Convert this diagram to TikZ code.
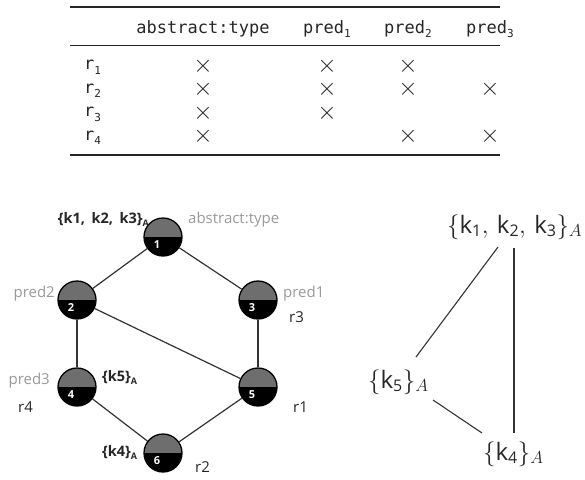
\documentclass[tikz,border=0pt]{standalone}
\usepackage{fontspec}
\setmainfont{Open Sans}
\newfontfamily\monof{DejaVu Sans Mono}
\newfontfamily\osf{Open Sans}
\newcommand\msub[1]{\raisebox{-0.5ex}{\fontsize{11}{11}\selectfont #1}}
\newcommand\gsub[1]{\raisebox{-0.5ex}{\fontsize{9}{9}\selectfont #1}}
\newcommand\kk[1]{\mbox{\osf\fontsize{24}{24}\selectfont k}_{\mbox{\osf\fontsize{16}{16}\selectfont #1}}}
\definecolor{halfgray}{HTML}{6E6E6E}
\definecolor{lblgray}{HTML}{9A9A9A}
\definecolor{edgecol}{HTML}{333333}
\begin{document}
\begin{tikzpicture}[x=1pt,y=-1pt,
  hdr/.style={font=\monof\fontsize{17}{17}\selectfont, inner sep=0pt, anchor=base, text=black!85},
  rlab/.style={font=\monof\fontsize{17}{17}\selectfont, inner sep=0pt, anchor=base west, text=black!85},
  cross/.style={font=\fontsize{23}{23}\selectfont, inner sep=0pt, anchor=center, text=black!85},
  rule/.style={line width=1.6pt, black!85},
  midrule/.style={line width=1pt, black!85},
  circ/.style={circle, draw=black, line width=1.3pt, minimum size=38pt, inner sep=0pt,
    path picture={\fill[halfgray] (path picture bounding box.north west) rectangle (path picture bounding box.east);
                  \fill[black] (path picture bounding box.west) rectangle (path picture bounding box.south east);}},
  num/.style={font=\osf\bfseries\fontsize{11}{11}\selectfont, text=white, inner sep=0pt},
  edge/.style={draw=edgecol, line width=1.2pt},
  glab/.style={font=\osf\fontsize{15}{15}\selectfont, text=lblgray, inner sep=0pt},
  blab/.style={font=\osf\bfseries\fontsize{14.5}{14.5}\selectfont, text=black!85, inner sep=0pt},
  rtag/.style={font=\osf\fontsize{15}{15}\selectfont, text=black!85, inner sep=0pt, anchor=base west},
  mlab/.style={font=\fontsize{23}{27}\selectfont, inner sep=0pt, text=black!85, anchor=base west},
  redge/.style={draw=black!80, line width=1.1pt}
]
\useasboundingbox (0,0) rectangle (585,479);

% ---------- table ----------
\coordinate (tl) at (70,7);  \coordinate (tr) at (500,7);
\coordinate (ml) at (70,45); \coordinate (mr) at (500,45);
\coordinate (bl) at (70,155);\coordinate (br) at (500,155);
\draw[rule] (tl) -- (tr);
\draw[midrule] (ml) -- (mr);
\draw[rule] (bl) -- (br);

\node[hdr] (h0) at (203,33) {abstract:type};
\node[hdr] (h1) at (327,33) {pred\msub{1}};
\node[hdr] (h2) at (408,33) {pred\msub{2}};
\node[hdr] (h3) at (490,33) {pred\msub{3}};

\node[rlab] (r1) at (84,69.5) {r\msub{1}};
\node[rlab] (r2) at (84,93) {r\msub{2}};
\node[rlab] (r3) at (84,116.5) {r\msub{3}};
\node[rlab] (r4) at (84,140) {r\msub{4}};

\node[cross] (x11) at (203,66) {$\times$};
\node[cross] (x12) at (327,66) {$\times$};
\node[cross] (x13) at (408,66) {$\times$};
\node[cross] (x21) at (203,89.5) {$\times$};
\node[cross] (x22) at (327,89.5) {$\times$};
\node[cross] (x23) at (408,89.5) {$\times$};
\node[cross] (x24) at (490,89.5) {$\times$};
\node[cross] (x31) at (203,113) {$\times$};
\node[cross] (x32) at (327,113) {$\times$};
\node[cross] (x41) at (203,136.5) {$\times$};
\node[cross] (x43) at (408,136.5) {$\times$};
\node[cross] (x44) at (490,136.5) {$\times$};

% ---------- lattice graph ----------
\node[circ] (n1) at (163,237) {};
\node[circ] (n2) at (77,300) {};
\node[circ] (n3) at (258,300) {};
\node[circ] (n4) at (77,387) {};
\node[circ] (n5) at (258,387) {};
\node[circ] (n6) at (163,453) {};

\path[edge] (n1) -- (n2);
\path[edge] (n1) -- (n3);
\path[edge] (n2) -- (n4);
\path[edge] (n2) -- (n5);
\path[edge] (n3) -- (n5);
\path[edge] (n4) -- (n6);
\path[edge] (n5) -- (n6);

\node[num] (t1) at ([shift={(-6,8)}]n1.center) {1};
\node[num] (t2) at ([shift={(-6,8)}]n2.center) {2};
\node[num] (t3) at ([shift={(-6,8)}]n3.center) {3};
\node[num] (t4) at ([shift={(-6,8)}]n4.center) {4};
\node[num] (t5) at ([shift={(-6,8)}]n5.center) {5};
\node[num] (t6) at ([shift={(-6,8)}]n6.center) {6};

\node[blab, anchor=base east] (l1) at (149,223) {\{k1,\hspace{0.45em}k2,\hspace{0.45em}k3\}\gsub{A}};
\node[glab, anchor=base west] (g1) at (188,223) {abstract:type};
\node[glab, anchor=base east] (g2) at (55,297) {pred2};
\node[glab, anchor=base west] (g3) at (283,297) {pred1};
\node[rtag] (s3) at (289,322) {r3};
\node[glab, anchor=base east] (g4) at (50,384) {pred3};
\node[blab, anchor=base west] (l5) at (102,381) {\{k5\}\gsub{A}};
\node[rtag] (s4) at (18,412) {r4};
\node[rtag] (s1) at (293,412) {r1};
\node[blab, anchor=base west] (l6) at (102,456) {\{k4\}\gsub{A}};
\node[rtag] (s2) at (195,472) {r2};

% ---------- right lattice ----------
\node[mlab] (K123) at (447,233) {$\{\kk{1},\,\kk{2},\,\kk{3}\}_A$};
\node[mlab] (K5) at (368,388) {$\{\kk{5}\}_A$};
\node[mlab] (K4) at (483,460) {$\{\kk{4}\}_A$};

\draw[redge] ([shift={(51,14)}]K123.base west) -- ([shift={(48,-31)}]K5.base west);
\draw[redge] ([shift={(67,15)}]K123.base west) -- ([shift={(31,-27)}]K4.base west);
\draw[redge] ([shift={(65,12)}]K5.base west) -- ([shift={(-1,-27)}]K4.base west);
\end{tikzpicture}
\end{document}
